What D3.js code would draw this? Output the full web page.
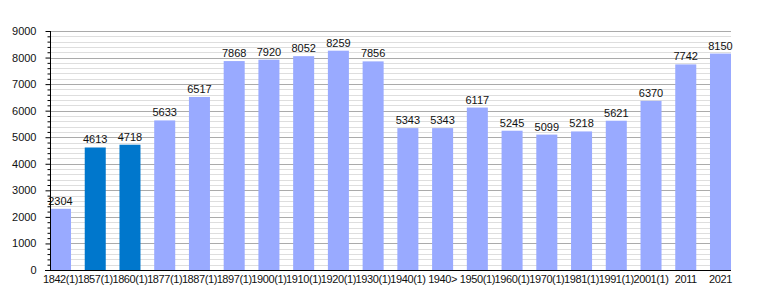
<!DOCTYPE html>
<html>
<head>
    <script src="https://d3js.org/d3.v7.min.js"></script>
    <style>
        body { margin: 0; background: #fff; }
        text { font-family: "Liberation Sans", Arial, sans-serif; }
    </style>
</head>
<body>
    <script>

// Data
var years = ["1842(1)", "1857(1)", "1860(1)", "1877(1)", "1887(1)", "1897(1)", "1900(1)",
             "1910(1)", "1920(1)", "1930(1)", "1940(1)", "1940>", "1950(1)", "1960(1)",
             "1970(1)", "1981(1)", "1991(1)", "2001(1)", "2011", "2021"];
var population = [2304, 4613, 4718, 5633, 6517, 7868, 7920, 8052, 8259, 7856, 5343, 5343,
                  6117, 5245, 5099, 5218, 5621, 6370, 7742, 8150];
var highlighted = ["1857(1)", "1860(1)"];
var yTicks = [0, 1000, 2000, 3000, 4000, 5000, 6000, 7000, 8000, 9000];

var width = 760, height = 300;
var plotLeft = 50, plotRight = 731, plotTop = 31, plotBottom = 270;

var svg = d3.select("body").append("svg")
    .attr("width", width)
    .attr("height", height);

var x = d3.scaleBand()
    .domain(years)
    .range([plotLeft, plotRight])
    .paddingInner(0.395)
    .paddingOuter(0);

var y = d3.scaleLinear()
    .domain([0, 9000])
    .range([plotBottom, plotTop]);

// minor grid every 200
var minor = d3.range(200, 9000, 200).filter(function(d) { return d % 1000 != 0; });
svg.append("g").selectAll("line")
    .data(minor)
  .enter().append("line")
    .attr("x1", plotLeft).attr("x2", plotRight)
    .attr("y1", function(d) { return Math.round(y(d)) + 0.5; })
    .attr("y2", function(d) { return Math.round(y(d)) + 0.5; })
    .attr("stroke", "#dedede");

// major grid
svg.append("g").selectAll("line")
    .data(yTicks.slice(1))
  .enter().append("line")
    .attr("x1", plotLeft).attr("x2", plotRight)
    .attr("y1", function(d) { return Math.round(y(d)) + 0.5; })
    .attr("y2", function(d) { return Math.round(y(d)) + 0.5; })
    .attr("stroke", "#ababab");

// bars
svg.append("g").selectAll("rect")
    .data(population)
  .enter().append("rect")
    .attr("x", function(d, i) { return x(years[i]); })
    .attr("y", function(d) { return y(d); })
    .attr("width", x.bandwidth())
    .attr("height", function(d) { return plotBottom - y(d); })
    .attr("fill", function(d, i) {
        return highlighted.indexOf(years[i]) >= 0 ? "#0077cc" : "#99aaff";
    });

// value labels
svg.append("g").selectAll("text")
    .data(population)
  .enter().append("text")
    .attr("x", function(d, i) { return x(years[i]) + x.bandwidth() / 2; })
    .attr("y", function(d) { return y(d) - 4; })
    .attr("text-anchor", "middle")
    .style("font-size", "11px")
    .attr("fill", "#111")
    .text(function(d) { return d; });

// y axis with minor ticks
var yAxis = svg.append("g")
    .attr("transform", "translate(" + (plotLeft + 0.5) + ",0)")
    .call(d3.axisLeft(y).tickValues(yTicks).tickSize(5).tickPadding(9).tickFormat(d3.format("d")));
svg.append("g")
    .attr("transform", "translate(" + (plotLeft + 0.5) + ",0)")
    .call(d3.axisLeft(y).tickValues(minor).tickSize(3).tickFormat(""))
    .select(".domain").remove();
yAxis.selectAll("text").style("font-size", "11px").attr("fill", "#111");
yAxis.select(".domain").attr("d", "M0," + plotTop + "V" + plotBottom);

// x axis
var xAxis = svg.append("g")
    .attr("transform", "translate(0," + (plotBottom + 0.5) + ")")
    .call(d3.axisBottom(x).tickSize(0).tickPadding(5));
xAxis.select(".domain").attr("d", "M" + (plotLeft - 5) + ",0H" + plotRight);
xAxis.selectAll("text")
    .style("font-size", "11px")
    .style("letter-spacing", "-0.4px")
    .attr("fill", "#111");

    </script>
</body>
</html>
